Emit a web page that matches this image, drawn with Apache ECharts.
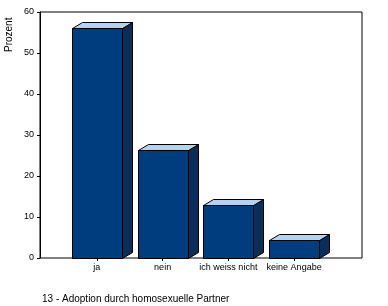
<!DOCTYPE html>
<html><head><meta charset="utf-8">
<script src="https://cdn.jsdelivr.net/npm/echarts@6/dist/echarts.min.js"></script>
<style>html,body{margin:0;padding:0;background:#fff}#c{width:388px;height:306px}</style>
</head><body><div id="c"></div>
<script>
const categories = ['ja', 'nein', 'ich weiss nicht', 'keine Angabe'];
const values = [56.0, 26.3, 12.9, 4.3];
const yTicks = [0, 10, 20, 30, 40, 50, 60];
const yName = 'Prozent';
const caption = '13 - Adoption durch homosexuelle Partner';

const FONT = 'Liberation Sans, Arial, sans-serif';
const chart = echarts.init(document.getElementById('c'), null, {renderer: 'canvas'});
const DX = 10, DY = 6;

function renderItem(params, api) {
  const idx = api.value(0), v = api.value(1);
  const top = api.coord([idx, v]);
  const base = api.coord([idx, 0]);
  const band = api.size([1, 0])[0];
  const w = Math.round(band * 0.76);
  const l = Math.round(top[0] - w / 2) + 0.5;
  const r = l + w;
  const t = Math.round(top[1]) + 0.5;
  const b = Math.round(base[1]) + 0.5;
  const st = {stroke: '#000', lineWidth: 1};
  return {
    type: 'group',
    children: [
      {type: 'polygon', shape: {points: [[r, t], [r + DX, t - DY], [r + DX, b - DY], [r, b]]},
        style: Object.assign({fill: '#0b2d5a'}, st)},
      {type: 'polygon', shape: {points: [[l, t], [l + DX, t - DY], [r + DX, t - DY], [r, t]]},
        style: Object.assign({fill: '#b4d3f1'}, st)},
      {type: 'rect', shape: {x: l, y: t, width: w, height: b - t},
        style: Object.assign({fill: '#003d7e'}, st)}
    ]
  };
}

chart.setOption({
  animation: false,
  grid: [
    {left: 40, right: 26, top: 12, bottom: 48, show: true, borderColor: '#000', borderWidth: 1, backgroundColor: 'transparent'},
    {left: 64, width: 263, top: 12, bottom: 48}
  ],
  title: {text: caption, left: 37, top: 289, textStyle: {fontFamily: FONT, fontSize: 10, fontWeight: 'normal', color: '#000'}},
  graphic: [{
    type: 'text', x: 4, y: 52, rotation: Math.PI / 2,
    style: {text: yName, fill: '#000', font: '10px ' + FONT, textAlign: 'left', textVerticalAlign: 'top'}
  }],
  xAxis: [
    {gridIndex: 0, type: 'value', min: 0, max: 1, show: false},
    {gridIndex: 1, type: 'category', data: categories,
      axisLine: {show: false},
      axisTick: {show: true, alignWithLabel: true, length: 3, lineStyle: {color: '#000'}},
      axisLabel: {color: '#000', fontFamily: FONT, fontSize: 9, margin: 5, interval: 0}}
  ],
  yAxis: [
    {gridIndex: 0, type: 'value', min: 0, max: 60, interval: 10,
      axisLine: {show: true, lineStyle: {color: '#000'}},
      axisTick: {show: true, length: 3, lineStyle: {color: '#000'}},
      splitLine: {show: false},
      axisLabel: {color: '#000', fontFamily: FONT, fontSize: 9, margin: 6, data: yTicks}},
    {gridIndex: 1, type: 'value', min: 0, max: 60, show: false}
  ],
  series: [{
    type: 'custom', xAxisIndex: 1, yAxisIndex: 1,
    renderItem: renderItem,
    data: values.map((v, i) => [i, v]),
    clip: false
  }]
});
</script></body></html>
